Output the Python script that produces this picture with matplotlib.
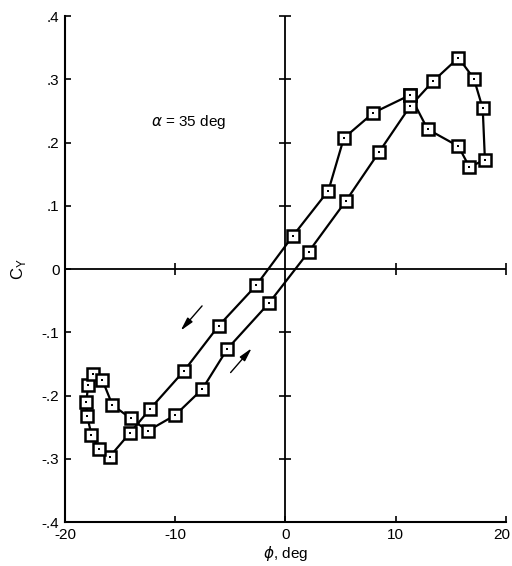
import matplotlib
matplotlib.use("Agg")
import matplotlib.pyplot as plt
from matplotlib.transforms import ScaledTranslation

plt.rcParams['font.family'] = ['Liberation Sans', 'DejaVu Sans']
plt.rcParams['mathtext.fontset'] = 'dejavusans'

# Closed hysteresis loop, in sweep order
phi = [11.3, 7.98, 5.3, 3.9, 0.66, -2.66, -6.07, -9.2, -12.27, -14.1, -15.96,
       -16.9, -17.6, -18.0, -18.07, -17.9, -17.5, -16.6, -15.7, -14.05,
       -12.5, -10.0, -7.55, -5.26, -1.5, 2.1, 5.5, 8.5, 11.3,
       13.4, 15.7, 17.1, 17.9, 18.1, 16.7, 15.7, 12.9, 11.3]
cy = [0.275, 0.247, 0.207, 0.124, 0.052, -0.026, -0.090, -0.161, -0.221, -0.259, -0.297,
      -0.285, -0.262, -0.232, -0.210, -0.184, -0.166, -0.176, -0.215, -0.236,
      -0.256, -0.231, -0.190, -0.126, -0.054, 0.027, 0.108, 0.185, 0.257,
      0.297, 0.334, 0.301, 0.254, 0.173, 0.161, 0.194, 0.221, 0.275]

xticks = [-20, -10, 0, 10, 20]
xticklabels = ['-20', '-10', '0', '10', '20']
yticks = [-0.4, -0.3, -0.2, -0.1, 0.0, 0.1, 0.2, 0.3, 0.4]
yticklabels = ['-.4', '-.3', '-.2', '-.1', '0', '.1', '.2', '.3', '.4']

fig = plt.figure(figsize=(5.12, 5.66), dpi=100)
ax = fig.add_axes([0.127, 0.0777, 0.861, 0.894])
ax.set_xlim(-20, 20)
ax.set_ylim(-0.4, 0.4)

for s in ['top', 'right']:
    ax.spines[s].set_visible(False)
for s in ['left', 'bottom']:
    ax.spines[s].set_linewidth(1.5)

ax.set_xticks(xticks)
ax.set_xticklabels(xticklabels)
ax.set_yticks(yticks)
ax.set_yticklabels(yticklabels)
ax.tick_params(direction='in', length=4, width=1.2, labelsize=11, pad=4)

# nudge the last x tick label so it stays inside the figure
last = ax.get_xticklabels()[-1]
last.set_transform(last.get_transform() + ScaledTranslation(-3 / 72, 0, fig.dpi_scale_trans))

# zero lines with cross ticks
ax.axhline(0, color='black', lw=1.3, zorder=1)
ax.axvline(0, color='black', lw=1.3, zorder=1)
xt = [t for t in xticks if t != 0]
yt = [t for t in yticks if t != 0]
ax.plot(xt, [0] * len(xt), linestyle='none', marker='|', markersize=8,
        markeredgewidth=1.2, color='black', zorder=1, clip_on=False)
ax.plot([0] * len(yt), yt, linestyle='none', marker='_', markersize=8,
        markeredgewidth=1.2, color='black', zorder=1, clip_on=False)

# data
ax.plot(phi, cy, color='black', lw=1.6, zorder=2)
ax.plot(phi, cy, linestyle='none', marker='s', markersize=8.5,
        markerfacecolor='white', markeredgecolor='black', markeredgewidth=1.8, zorder=3)
ax.plot(phi, cy, linestyle='none', marker='s', markersize=1.5,
        markerfacecolor='black', markeredgecolor='black', markeredgewidth=0, zorder=4)

# arrows
ax.annotate('', xy=(-9.67, -0.1006), xytext=(-7.4, -0.055),
            arrowprops=dict(arrowstyle='-|>,head_length=0.8,head_width=0.2',
                            color='black', lw=1.0))
ax.annotate('', xy=(-2.9, -0.122), xytext=(-5.14, -0.167),
            arrowprops=dict(arrowstyle='-|>,head_length=0.8,head_width=0.2',
                            color='black', lw=1.0))

ax.text(-12.2, 0.232, r'$\alpha$ = 35 deg', fontsize=11, va='center', ha='left')

ax.set_xlabel(r'$\phi$, deg', fontsize=11, labelpad=2)
ax.set_ylabel(r'C$_\mathregular{Y}$', fontsize=12, labelpad=10)

fig.savefig('out.png', dpi=100)
